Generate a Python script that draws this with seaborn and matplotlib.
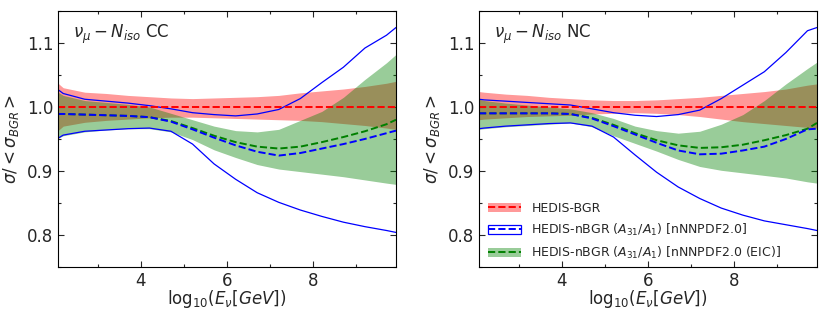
import numpy as np
import matplotlib
matplotlib.use("Agg")
import matplotlib.pyplot as plt
import seaborn as sns
from matplotlib.patches import Patch
from matplotlib.lines import Line2D
from matplotlib.ticker import MultipleLocator

sns.set_style("ticks", {"xtick.direction": "in", "ytick.direction": "in",
                        "axes.edgecolor": "black"})
plt.rcParams['font.family'] = ['DejaVu Sans']
plt.rcParams['mathtext.fontset'] = 'dejavusans'

# log10(E_nu / GeV) grid
x = [2.08, 2.2, 2.7, 3.2, 3.7, 4.2, 4.7, 5.2, 5.7, 6.2, 6.7, 7.2, 7.7, 8.2, 8.7, 9.2, 9.7, 9.92]

# ---- CC panel ----
cc_bgr_up = [1.037, 1.030, 1.023, 1.021, 1.018, 1.016, 1.014, 1.013, 1.014, 1.015, 1.016, 1.018, 1.022, 1.025, 1.028, 1.032, 1.037, 1.040]
cc_bgr_lo = [0.963, 0.970, 0.976, 0.979, 0.981, 0.983, 0.984, 0.984, 0.983, 0.982, 0.981, 0.980, 0.979, 0.977, 0.974, 0.971, 0.967, 0.965]
cc_nnpdf_up = [1.027, 1.021, 1.012, 1.009, 1.006, 1.002, 0.997, 0.991, 0.988, 0.986, 0.989, 0.996, 1.013, 1.038, 1.062, 1.092, 1.112, 1.124]
cc_nnpdf_lo = [0.951, 0.956, 0.962, 0.964, 0.966, 0.967, 0.962, 0.942, 0.911, 0.887, 0.866, 0.851, 0.839, 0.829, 0.820, 0.813, 0.807, 0.804]
cc_nnpdf_c = [0.989, 0.989, 0.988, 0.987, 0.986, 0.984, 0.977, 0.965, 0.952, 0.940, 0.930, 0.924, 0.928, 0.935, 0.942, 0.950, 0.959, 0.963]
cc_eic_up = [1.023, 1.018, 1.010, 1.007, 1.004, 1.000, 0.990, 0.980, 0.970, 0.963, 0.961, 0.965, 0.979, 0.993, 1.015, 1.043, 1.069, 1.082]
cc_eic_lo = [0.951, 0.955, 0.961, 0.964, 0.966, 0.966, 0.961, 0.949, 0.933, 0.921, 0.910, 0.903, 0.899, 0.895, 0.891, 0.886, 0.881, 0.879]
cc_eic_c = [0.989, 0.989, 0.988, 0.987, 0.986, 0.984, 0.978, 0.967, 0.955, 0.945, 0.938, 0.935, 0.938, 0.945, 0.953, 0.962, 0.973, 0.980]

# ---- NC panel ----
nc_bgr_up = [1.024, 1.023, 1.020, 1.018, 1.015, 1.013, 1.011, 1.010, 1.010, 1.011, 1.013, 1.015, 1.018, 1.021, 1.024, 1.028, 1.034, 1.036]
nc_bgr_lo = [0.980, 0.981, 0.983, 0.985, 0.986, 0.987, 0.989, 0.990, 0.991, 0.990, 0.988, 0.985, 0.981, 0.977, 0.974, 0.971, 0.968, 0.967]
nc_nnpdf_up = [1.012, 1.011, 1.009, 1.007, 1.005, 1.003, 0.997, 0.991, 0.987, 0.985, 0.988, 0.995, 1.013, 1.034, 1.055, 1.085, 1.119, 1.124]
nc_nnpdf_lo = [0.966, 0.967, 0.970, 0.972, 0.974, 0.975, 0.970, 0.953, 0.925, 0.898, 0.875, 0.857, 0.842, 0.831, 0.822, 0.816, 0.810, 0.807]
nc_nnpdf_c = [0.990, 0.990, 0.990, 0.990, 0.990, 0.989, 0.982, 0.970, 0.957, 0.944, 0.932, 0.926, 0.927, 0.932, 0.938, 0.950, 0.965, 0.966]
nc_eic_up = [1.012, 1.010, 1.006, 1.003, 1.000, 0.997, 0.991, 0.982, 0.970, 0.963, 0.959, 0.962, 0.973, 0.988, 1.010, 1.036, 1.060, 1.070]
nc_eic_lo = [0.965, 0.966, 0.969, 0.971, 0.973, 0.975, 0.969, 0.955, 0.943, 0.931, 0.918, 0.907, 0.901, 0.897, 0.893, 0.889, 0.883, 0.881]
nc_eic_c = [0.990, 0.990, 0.990, 0.990, 0.990, 0.989, 0.983, 0.972, 0.959, 0.948, 0.940, 0.936, 0.937, 0.941, 0.948, 0.956, 0.966, 0.975]

panels = [
    ("CC", cc_bgr_up, cc_bgr_lo, cc_nnpdf_up, cc_nnpdf_lo, cc_nnpdf_c, cc_eic_up, cc_eic_lo, cc_eic_c),
    ("NC", nc_bgr_up, nc_bgr_lo, nc_nnpdf_up, nc_nnpdf_lo, nc_nnpdf_c, nc_eic_up, nc_eic_lo, nc_eic_c),
]

fig, axes = plt.subplots(1, 2, figsize=(8.3, 3.11), dpi=100)
fig.subplots_adjust(left=0.0699, right=0.9843, bottom=0.1415, top=0.965, wspace=0.2456)

for ax, (name, bu, bl, nu, nl, nc, eu, el, ec) in zip(axes, panels):
    ax.fill_between(x, bl, bu, color='red', alpha=0.4, lw=0)
    ax.fill_between(x, el, eu, color='green', alpha=0.4, lw=0)
    sns.lineplot(x=x, y=ec, ax=ax, color='green', ls='--', lw=1.4)
    sns.lineplot(x=x, y=nc, ax=ax, color='blue', ls='--', lw=1.4)
    sns.lineplot(x=x, y=nu, ax=ax, color='blue', lw=0.9)
    sns.lineplot(x=x, y=nl, ax=ax, color='blue', lw=0.9)
    sns.lineplot(x=x, y=np.ones(len(x)), ax=ax, color='red', ls='--', lw=1.4)

    ax.set_xlim(2.08, 9.92)
    ax.set_ylim(0.75, 1.15)
    ax.xaxis.set_major_locator(MultipleLocator(2))
    ax.xaxis.set_minor_locator(MultipleLocator(1))
    ax.yaxis.set_major_locator(MultipleLocator(0.1))
    ax.yaxis.set_minor_locator(MultipleLocator(0.05))
    ax.tick_params(which='both', direction='in', top=True, right=True, labelsize=12, width=0.8)
    ax.tick_params(which='major', length=4)
    ax.tick_params(which='minor', length=2.5)
    for s in ax.spines.values():
        s.set_linewidth(0.8)
        s.set_color('black')
    ax.set_xlabel(r'$\mathrm{log}_{10}(E_{\nu}[GeV])$', fontsize=12, labelpad=-1)
    ax.set_ylabel(r'$\sigma/<\sigma_{BGR}>$', fontsize=12, labelpad=4)
    ax.text(0.044, 0.955, r'$\nu_{\mu}-N_{iso}$ ' + name, transform=ax.transAxes,
            fontsize=12, va='top', ha='left')

handles = [
    (Patch(facecolor='red', alpha=0.4, lw=0), Line2D([], [], color='red', ls='--', lw=1.4)),
    (Patch(facecolor='white', edgecolor='blue', lw=0.9), Line2D([], [], color='blue', ls='--', lw=1.4)),
    (Patch(facecolor='green', alpha=0.4, lw=0), Line2D([], [], color='green', ls='--', lw=1.4)),
]
labels = ['HEDIS-BGR',
          r'HEDIS-nBGR ($A_{31}/A_{1}$) [nNNPDF2.0]',
          r'HEDIS-nBGR ($A_{31}/A_{1}$) [nNNPDF2.0 (EIC)]']
axes[1].legend(handles, labels, loc='lower left', frameon=False, fontsize=9,
               handlelength=2.7, labelspacing=0.55, borderaxespad=0.3,
               bbox_to_anchor=(0.0, -0.01))

fig.savefig('out.png', dpi=100)
